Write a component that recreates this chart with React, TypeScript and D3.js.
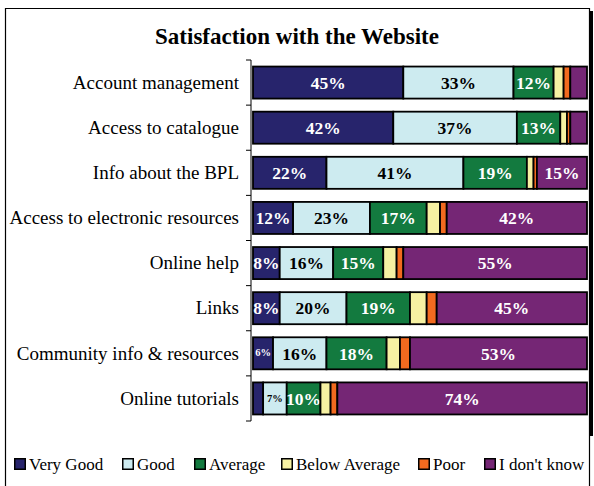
import React from "react";
import * as d3 from "d3";

const categories = [
  "Account management",
  "Access to catalogue",
  "Info about the BPL",
  "Access to electronic resources",
  "Online help",
  "Links",
  "Community info & resources",
  "Online tutorials",
];
const seriesNames = ["Very Good", "Good", "Average", "Below Average", "Poor", "I don't know"];
const veryGood = [45, 42, 22, 12, 8, 8, 6, 3];
const good = [33, 37, 41, 23, 16, 20, 16, 7];
const average = [12, 13, 19, 17, 15, 19, 18, 10];
const belowAverage = [3, 2, 2, 4, 4, 5, 4, 3];
const poor = [2, 1, 1, 2, 2, 3, 3, 2];
const dontKnow = [5, 5, 15, 42, 55, 45, 53, 74];
const title = "Satisfaction with the Website";

const colors = ["#27246c", "#cdebf0", "#137a3f", "#f6f1a2", "#f26a1f", "#752675"];
const textColors = ["#fff", "#000", "#fff", "#000", "#000", "#fff"];

const FONT = "'Liberation Serif', serif";

export default function App() {
  const W = 594, H = 486;
  const series = [veryGood, good, average, belowAverage, poor, dontKnow];
  const rows = categories.map((c, i) => {
    const o: any = { cat: c };
    seriesNames.forEach((s, k) => (o[s] = series[k][i]));
    return o;
  });
  const norm = rows.map((r) => {
    const tot = d3.sum(seriesNames, (s) => r[s]);
    const o: any = { cat: r.cat };
    seriesNames.forEach((s) => (o[s] = r[s] / tot));
    o.raw = r;
    return o;
  });
  const stacked = d3.stack<any>().keys(seriesNames)(norm);
  const x = d3.scaleLinear().domain([0, 1]).range([253, 587]);
  const y = d3.scaleBand<string>().domain(categories).range([60, 421]).paddingInner(0.29).paddingOuter(0.145);
  const bw = y.bandwidth();
  const ticks = [...categories.map((c) => y(c)! - (y.step() - bw) / 2), 421];

  const legendX = [14, 122, 194, 281, 418, 484];

  return (
    <svg width={W} height={H} style={{ position: "absolute", left: 0, top: 0 }} fontFamily={FONT}>
      <rect x={0} y={0} width={W} height={H} fill="#fff" />
      <rect x={589} y={11} width={4} height={425} fill="#000" />
      <path d={`M5.5,${H} V8.5 H589.5 V${H}`} fill="none" stroke="#000" strokeWidth={1.2} />
      <text x={297} y={44} textAnchor="middle" fontWeight="bold" fontSize={23}>{title}</text>
      {/* axis */}
      <line x1={251} x2={251} y1={60} y2={421} stroke="#000" strokeWidth={1} />
      {ticks.map((t, i) => (
        <line key={i} x1={246} x2={251} y1={t} y2={t} stroke="#000" />
      ))}
      {categories.map((c) => (
        <text key={c} x={239} y={y(c)! + bw / 2} dy="0.33em" textAnchor="end" fontSize={19}>{c}</text>
      ))}
      {stacked.map((layer, k) => (
        <g key={layer.key}>
          {layer.map((d, i) => {
            const x0 = x(d[0]), x1 = x(d[1]);
            const v = Math.round(norm[i].raw[layer.key]);
            const yy = y(categories[i])!;
            const small = v < 8;
            return (
              <g key={i}>
                <rect x={x0} y={yy} width={x1 - x0} height={bw} fill={colors[k]} stroke="#000" strokeWidth={1.8} />
                {v >= 6 && (
                  <text x={(x0 + x1) / 2} y={yy + bw / 2} dy={small ? "0.3em" : "0.36em"} textAnchor="middle" fontWeight="bold"
                    fontSize={small ? 10.5 : 17.5} fill={textColors[k]}>{v}%</text>
                )}
              </g>
            );
          })}
        </g>
      ))}
      {seriesNames.map((s, k) => (
        <g key={s}>
          <rect x={legendX[k] + 0.75} y={458.75} width={10.5} height={10.5} fill={colors[k]} stroke="#000" strokeWidth={1.5} />
          <text x={legendX[k] + 15} y={470} fontSize={17}>{s}</text>
        </g>
      ))}
    </svg>
  );
}
